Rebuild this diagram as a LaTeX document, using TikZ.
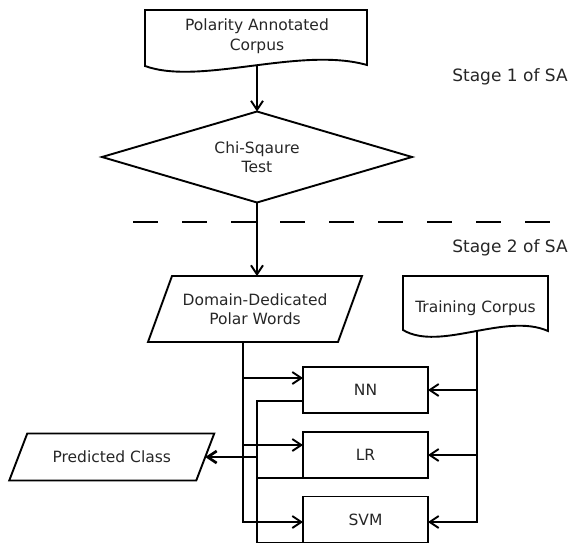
\documentclass[tikz,border=0pt]{standalone}
\usepackage{fontspec}
\setmainfont{DejaVu Sans}
\usetikzlibrary{shapes.geometric,arrows.meta,backgrounds}
\begin{document}
\begin{tikzpicture}[x=1pt,y=-1pt, line width=1.9pt,
  >={Straight Barb[length=9pt,width=12pt]},
  txt/.style={font=\fontsize{15.5}{19.5}\selectfont, text=black!85, align=center, inner sep=0pt, outer sep=0pt},
  stagetxt/.style={font=\fontsize{17}{20}\selectfont, text=black!85, inner sep=0pt},
  procbox/.style={txt, draw, rectangle, minimum width=125pt, minimum height=46pt},
  docshape/.style={draw, fill=white}]
\useasboundingbox (0,0) rectangle (570,544);

% text nodes / shapes
\node[txt, minimum width=222pt, minimum height=56pt] (corpus) at (257,36) {Polarity Annotated\\Corpus};
\node[txt, draw, diamond, shape aspect=3.4, minimum width=310pt, minimum height=91pt] (chi) at (257,157) {Chi-Sqaure\\Test};
\node[txt, minimum width=190pt, minimum height=66pt] (polar) at (255,309) {Domain-Dedicated\\Polar Words};
\node[txt, minimum width=145pt, minimum height=64pt] (tc) at (475.5,308) {Training Corpus};
\node[procbox] (nn) at (365.5,390) {NN};
\node[procbox] (lr) at (365.5,455) {LR};
\node[procbox] (svm) at (365.5,519.5) {SVM};
\node[txt, minimum width=187pt, minimum height=47pt] (pred) at (111.75,457) {Predicted Class};
\node[stagetxt] (s1) at (510,77) {Stage 1 of SA};
\node[stagetxt] (s2) at (510,248) {Stage 2 of SA};

\coordinate (d1) at (133,222);
\coordinate (d2) at (550,222);
\coordinate (pb) at ([xshift=-12pt]polar.south);
\coordinate (join) at (257,457);

\begin{pgfonlayer}{background}
\begin{scope}[line width=1.9pt, >={Straight Barb[length=9pt,width=12pt]}]
  % connectors
  \draw[->] ([yshift=10pt]corpus.south -| chi.north) -- (chi.north);
  \draw[->] (chi.south) -- (chi.south |- polar.north);
  \draw[dash pattern=on 25pt off 24pt] (d1) -- (d2);
  \draw[->] (pb) |- ([yshift=12pt]nn.west);
  \draw[->] (pb) |- ([yshift=10pt]lr.west);
  \draw[->] (pb) |- ([yshift=-2.5pt]svm.west);
  \draw[->] ([xshift=1.5pt,yshift=12pt]tc.south) |- (nn.east);
  \draw[->] ([xshift=1.5pt,yshift=12pt]tc.south) |- (lr.east);
  \draw[->] ([xshift=1.5pt,yshift=12pt]tc.south) |- ([yshift=-2.5pt]svm.east);
  \draw ([yshift=-11pt]nn.west) -| (join |- svm.south west) -- (svm.south west);
  \draw (lr.south west) -- (lr.south west -| join);
  \draw[->, line width=2.7pt] (join) -- (pred.east);
  % shapes
  \draw[docshape] (145,66) -- (145,10) -- (367,10) -- (367,65)
     .. controls (300,46) and (200,86) .. (145,66) -- cycle;
  \draw[docshape] (403,330) -- (403,276) -- (548,276) -- (548,331)
     .. controls (505,312) and (440,352) .. (403,330) -- cycle;
  \draw ([xshift=12pt]polar.north west) -- ([xshift=12pt]polar.north east)
     -- ([xshift=-12pt]polar.south east) -- ([xshift=-12pt]polar.south west) -- cycle;
  \draw ([xshift=9pt]pred.north west) -- ([xshift=9pt]pred.north east)
     -- ([xshift=-9pt]pred.south east) -- ([xshift=-9pt]pred.south west) -- cycle;
\end{scope}
\end{pgfonlayer}
\end{tikzpicture}
\end{document}
